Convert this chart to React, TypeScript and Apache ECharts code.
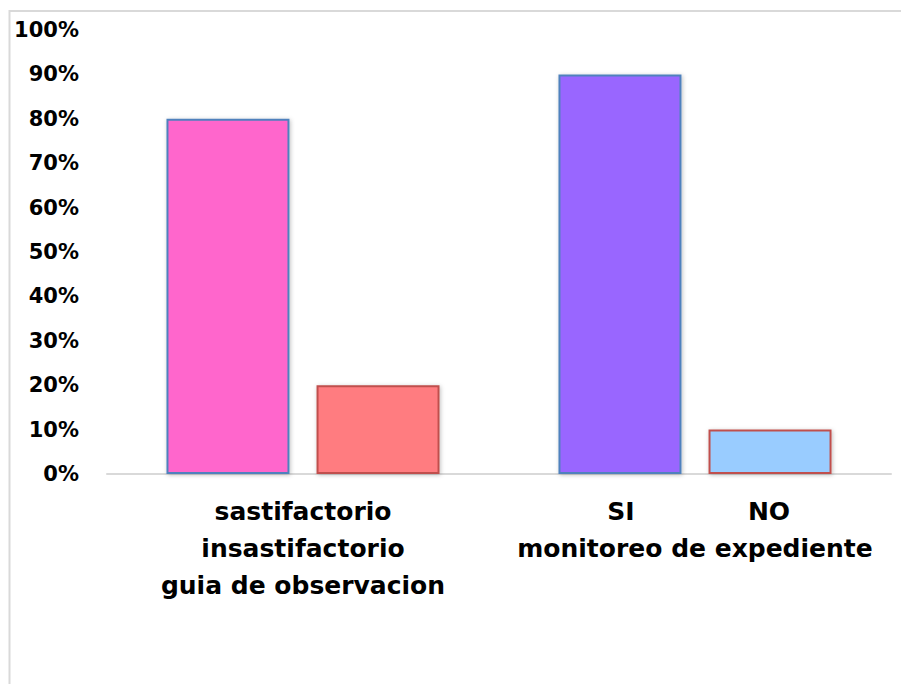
import React, { useEffect, useRef } from "react";
import * as echarts from "echarts";

// Category groups along the x axis
const categories = ["guia de observacion", "monitoreo de expediente"];
// Sub-labels for each group's two bars
const subLabels = [
  ["sastifactorio", "insastifactorio"],
  ["SI", "NO"],
];
// Percentages for the first and second bar of every group
const firstValues = [80, 90];
const secondValues = [20, 10];
// Fill colours per bar
const firstColors = ["#FF66CC", "#9966FF"];
const secondColors = ["#FF7C80", "#99CCFF"];
// Y axis range (percent)
const yMin = 0;
const yMax = 100;
const yStep = 10;

const FONT = "DejaVu Sans";

export default function App() {
  const ref = useRef<HTMLDivElement>(null);

  useEffect(() => {
    document.body.style.margin = "0";
    const chart = echarts.init(ref.current!, undefined, { renderer: "svg" });

    const catLabel = (value: string, idx: number) => {
      if (idx === 0) {
        return `{c|${subLabels[0][0]}}\n{c|${subLabels[0][1]}}\n{c|${value}}`;
      }
      return `{p|${subLabels[1][0]}}{p|${subLabels[1][1]}}\n{c|${value}}`;
    };

    const barShadow = {
      shadowBlur: 4,
      shadowColor: "rgba(0,0,0,0.25)",
      shadowOffsetX: 1,
      shadowOffsetY: 1,
    };

    chart.setOption({
      animation: false,
      backgroundColor: "#ffffff",
      graphic: [
        {
          type: "rect",
          shape: { x: 9.5, y: 11, width: 1000, height: 1000 },
          style: { fill: "none", stroke: "#d9d9d9", lineWidth: 2 },
          silent: true,
        },
      ],
      grid: { left: 107, right: 10, top: 30, bottom: 210, containLabel: false },
      xAxis: {
        type: "category",
        data: categories,
        axisTick: { show: false },
        axisLine: { lineStyle: { color: "#d9d9d9", width: 2 } },
        axisLabel: {
          interval: 0,
          margin: 19,
          formatter: catLabel,
          rich: {
            c: {
              fontFamily: FONT,
              fontWeight: "bold",
              fontSize: 25,
              lineHeight: 37,
              color: "#000",
              align: "center",
            },
            p: {
              fontFamily: FONT,
              fontWeight: "bold",
              fontSize: 25,
              lineHeight: 37,
              color: "#000",
              align: "center",
              width: 148,
            },
          },
        },
      },
      yAxis: {
        type: "value",
        min: yMin,
        max: yMax,
        interval: yStep,
        splitLine: { show: false },
        axisLine: { show: false },
        axisTick: { show: false },
        axisLabel: {
          formatter: "{value}%",
          fontFamily: FONT,
          fontWeight: "bold",
          fontSize: 21,
          color: "#000",
          margin: 28,
        },
      },
      series: [
        {
          type: "bar",
          barWidth: 123,
          barGap: "22%",
          data: firstValues.map((v, i) => ({
            value: v,
            itemStyle: { color: firstColors[i] },
          })),
          itemStyle: { borderColor: "#4F81BD", borderWidth: 2, ...barShadow },
        },
        {
          type: "bar",
          barWidth: 123,
          barGap: "22%",
          data: secondValues.map((v, i) => ({
            value: v,
            itemStyle: { color: secondColors[i] },
          })),
          itemStyle: { borderColor: "#C0504D", borderWidth: 2, ...barShadow },
        },
      ],
    });

    return () => chart.dispose();
  }, []);

  return (
    <div
      ref={ref}
      style={{ position: "absolute", left: 0, top: 0, width: 901, height: 684 }}
    />
  );
}
